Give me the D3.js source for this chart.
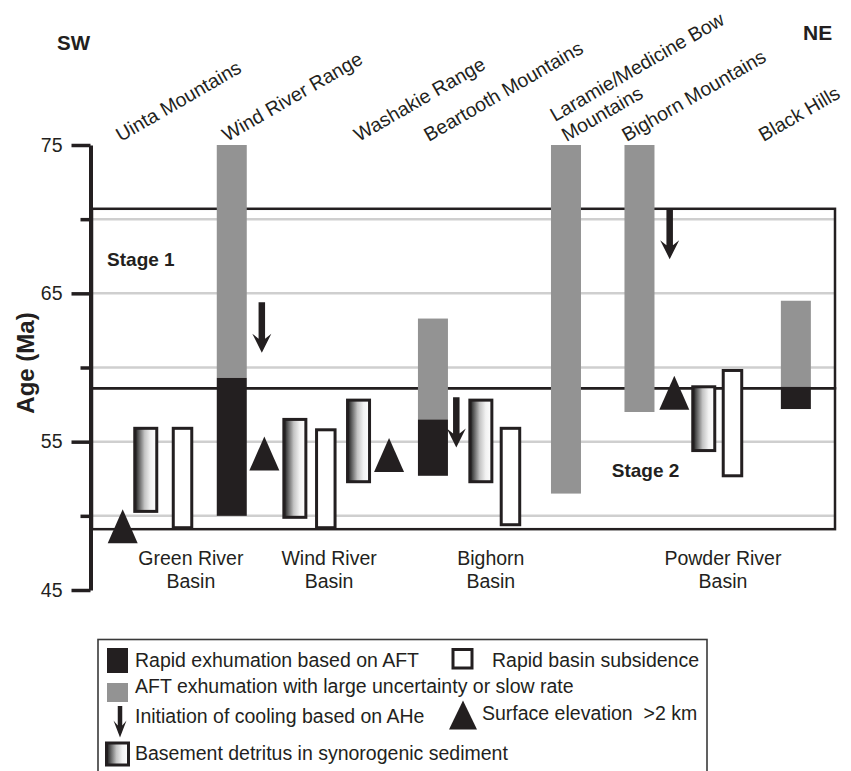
<!DOCTYPE html>
<html>
<head>
<meta charset="utf-8">
<script src="https://cdn.jsdelivr.net/npm/d3@7/dist/d3.min.js"></script>
<style>
  html, body { margin: 0; padding: 0; background: #fff; }
  svg { display: block; font-family: "Liberation Sans", Arial, Helvetica, sans-serif; }
</style>
</head>
<body>
<svg id="chart" width="851" height="771"></svg>
<script>
// ---- Age axis (Ma) ----
const majorTicks = [45, 55, 65, 75];
const minorTicks = [50, 60, 70];
const gridAges = [50, 55, 60, 65, 70];

// Stage limits (Ma): top of stage 1, stage 1/2 boundary, base of stage 2
const stageLimits = [70.7, 58.6, 49.1];
const stageNames = ["Stage 1", "Stage 2"];

// ---- Uplifts and basins along the SW–NE transect (transect units 0–50) ----
const rangeNames = ["Uinta Mountains", "Wind River Range", "Washakie Range", "Beartooth Mountains",
                    "Laramie/Medicine Bow\nMountains", "Bighorn Mountains", "Black Hills"];
const rangePos = [2.0, 9.14, 18.0, 22.7, 31.95, 36.0, 45.2];

const basinNames = ["Green River\nBasin", "Wind River\nBasin", "Bighorn\nBasin", "Powder River\nBasin"];
const basinPos = [6.71, 16.0, 26.87, 42.47];

// AFT exhumation with large uncertainty or slow rate (old → young, Ma)
const slowPos   = [9.46, 22.98, 31.92, 36.86, 47.37];
const slowOld   = [75.0, 63.3, 75.0, 75.0, 64.5];
const slowYoung = [59.3, 56.5, 51.5, 57.0, 58.7];

// Rapid exhumation based on AFT
const rapidPos   = [9.46, 22.98, 47.37];
const rapidOld   = [59.3, 56.5, 58.7];
const rapidYoung = [50.0, 52.7, 57.2];

// Basement detritus in synorogenic sediment
const detritusPos   = [3.68, 13.70, 17.98, 26.20, 41.18];
const detritusOld   = [55.9, 56.5, 57.8, 57.8, 58.7];
const detritusYoung = [50.3, 49.9, 52.3, 52.3, 54.4];

// Rapid basin subsidence
const subsidencePos   = [6.15, 15.78, 28.19, 43.11];
const subsidenceOld   = [55.9, 55.8, 55.9, 59.8];
const subsidenceYoung = [49.2, 49.2, 49.4, 52.7];

// Initiation of cooling based on AHe (arrow from start to onset age)
const ahePos   = [11.48, 24.55, 38.89];
const aheStart = [64.4, 58.0, 70.7];
const aheOnset = [61.0, 54.6, 67.3];

// Surface elevation > 2 km
const elevPos = [2.13, 11.65, 20.03, 39.2];
const elevAge = [49.3, 54.2, 54.1, 58.3];

// ---- Drawing ----
const INK = "#231f20";
const GREY = "#939393";
const svg = d3.select("#chart");

const y = d3.scaleLinear().domain([45, 75]).range([590, 145]);
const x = d3.scaleLinear().domain([0, 50]).range([91, 835]);

// gradient for detritus boxes: dark on the left fading to white
const defs = svg.append("defs");
const grad = defs.append("linearGradient").attr("id", "detritus")
  .attr("x1", "0%").attr("x2", "100%").attr("y1", "0%").attr("y2", "0%");
[[0, "#151515"], [0.18, "#5c5c5c"], [0.45, "#c4c4c4"], [0.72, "#f2f2f2"], [1, "#ffffff"]]
  .forEach(([o, c]) => grad.append("stop").attr("offset", o).attr("stop-color", c));

// light grid lines
svg.append("g").selectAll("line").data(gridAges).join("line")
  .attr("x1", x(0) + 2).attr("x2", x(50) - 1)
  .attr("y1", d => y(d)).attr("y2", d => y(d))
  .attr("stroke", "#cfcfcf").attr("stroke-width", 2.5);

// stage boxes
const stageBoxes = d3.range(stageNames.length).map(i => ({ top: stageLimits[i], bottom: stageLimits[i + 1] }));
svg.append("g").selectAll("rect").data(stageBoxes).join("rect")
  .attr("x", x(0) + 1).attr("width", x(50) - x(0) - 1)
  .attr("y", d => y(d.top)).attr("height", d => y(d.bottom) - y(d.top))
  .attr("fill", "none").attr("stroke", INK).attr("stroke-width", 2.5);

svg.append("text").text(stageNames[0]).attr("x", x(1.08)).attr("y", 266)
  .attr("font-weight", "bold").attr("font-size", 19).attr("fill", INK);
svg.append("text").text(stageNames[1]).attr("x", x(35.0)).attr("y", 477)
  .attr("font-weight", "bold").attr("font-size", 19).attr("fill", INK);

const BAR_W = 30, DET_W = 22, SUB_W = 18.5;

// slow / uncertain AFT bars
svg.append("g").selectAll("rect").data(slowPos.map((p, i) => ({ p, o: slowOld[i], yg: slowYoung[i] }))).join("rect")
  .attr("x", d => x(d.p) - BAR_W / 2).attr("width", BAR_W)
  .attr("y", d => y(d.o)).attr("height", d => y(d.yg) - y(d.o))
  .attr("fill", GREY);

// rapid AFT bars
svg.append("g").selectAll("rect").data(rapidPos.map((p, i) => ({ p, o: rapidOld[i], yg: rapidYoung[i] }))).join("rect")
  .attr("x", d => x(d.p) - BAR_W / 2).attr("width", BAR_W)
  .attr("y", d => y(d.o)).attr("height", d => y(d.yg) - y(d.o))
  .attr("fill", INK);

// detritus boxes
svg.append("g").selectAll("rect").data(detritusPos.map((p, i) => ({ p, o: detritusOld[i], yg: detritusYoung[i] }))).join("rect")
  .attr("x", d => x(d.p) - DET_W / 2).attr("width", DET_W)
  .attr("y", d => y(d.o)).attr("height", d => y(d.yg) - y(d.o))
  .attr("fill", "url(#detritus)").attr("stroke", INK).attr("stroke-width", 3);

// subsidence boxes
svg.append("g").selectAll("rect").data(subsidencePos.map((p, i) => ({ p, o: subsidenceOld[i], yg: subsidenceYoung[i] }))).join("rect")
  .attr("x", d => x(d.p) - SUB_W / 2).attr("width", SUB_W)
  .attr("y", d => y(d.o)).attr("height", d => y(d.yg) - y(d.o))
  .attr("fill", "#fff").attr("stroke", INK).attr("stroke-width", 3);

// arrow glyph: shaft from yTop down to a solid head with a shallow notch
function arrowPath(cx, yTop, yTip, shaft, half, headLen, notch) {
  const s = shaft / 2;
  return `M${cx - s},${yTop} L${cx + s},${yTop} L${cx + s},${yTip - notch} L${cx + half},${yTip - headLen}` +
         ` L${cx},${yTip} L${cx - half},${yTip - headLen} L${cx - s},${yTip - notch} Z`;
}
svg.append("g").selectAll("path").data(ahePos.map((p, i) => ({ p, a: aheStart[i], b: aheOnset[i] }))).join("path")
  .attr("d", d => arrowPath(x(d.p), y(d.a), y(d.b), 6.5, 9.5, 19, 14))
  .attr("fill", INK);

// elevation triangles
const TRI_W = 30, TRI_H = 34;
svg.append("g").selectAll("path").data(elevPos.map((p, i) => ({ p, a: elevAge[i] }))).join("path")
  .attr("d", d => {
    const cx = x(d.p), cy = y(d.a);
    return `M${cx},${cy - TRI_H / 2} L${cx + TRI_W / 2},${cy + TRI_H / 2} L${cx - TRI_W / 2},${cy + TRI_H / 2} Z`;
  })
  .attr("fill", INK);

// y axis
const axisG = svg.append("g").attr("transform", `translate(${x(0) - 0.5},0)`);
axisG.call(d3.axisLeft(y).tickValues(majorTicks).tickSize(19).tickSizeOuter(0).tickPadding(9).tickFormat(d3.format("d")));
axisG.select(".domain").attr("stroke", INK).attr("stroke-width", 4);
axisG.selectAll(".tick line").attr("stroke", INK).attr("stroke-width", 3.5);
axisG.selectAll(".tick text").attr("font-size", 19.5).attr("fill", INK)
  .attr("font-family", "'Liberation Sans', Arial, sans-serif");
const minorG = svg.append("g").attr("transform", `translate(${x(0) - 0.5},0)`);
minorG.call(d3.axisLeft(y).tickValues(minorTicks).tickSize(10).tickSizeOuter(0).tickFormat(""));
minorG.select(".domain").remove();
minorG.selectAll(".tick line").attr("stroke", INK).attr("stroke-width", 3.5);

svg.append("text").text("Age (Ma)")
  .attr("transform", "translate(34,363) rotate(-90)")
  .attr("text-anchor", "middle").attr("font-weight", "bold").attr("font-size", 24).attr("fill", INK);

// transect ends
svg.append("text").text("SW").attr("x", 57).attr("y", 50)
  .attr("font-weight", "bold").attr("font-size", 20.5).attr("fill", INK);
svg.append("text").text("NE").attr("x", 803).attr("y", 40)
  .attr("font-weight", "bold").attr("font-size", 21).attr("fill", INK);

// uplift names, slanted
const LINE_H = 23;
svg.append("g").selectAll("text").data(rangeNames.map((n, i) => ({ n, p: rangePos[i] }))).join("text")
  .attr("transform", d => `translate(${x(d.p)},142) rotate(-30)`)
  .attr("font-size", 19.5).attr("fill", INK)
  .each(function (d) {
    const lines = d.n.split("\n");
    d3.select(this).selectAll("tspan").data(lines).join("tspan")
      .attr("x", 0).attr("y", (l, i) => -(lines.length - 1 - i) * LINE_H).text(l => l);
  });

// basin names
svg.append("g").selectAll("text").data(basinNames.map((n, i) => ({ n, p: basinPos[i] }))).join("text")
  .attr("text-anchor", "middle").attr("font-size", 19.5).attr("fill", INK)
  .each(function (d) {
    d3.select(this).selectAll("tspan").data(d.n.split("\n")).join("tspan")
      .attr("x", x(d.p)).attr("y", (l, i) => 565 + i * LINE_H).text(l => l);
  });

// ---- Legend ----
const lg = svg.append("g");
lg.append("rect").attr("x", 98).attr("y", 639.5).attr("width", 609).attr("height", 200)
  .attr("fill", "none").attr("stroke", "#3a3a3a").attr("stroke-width", 1.6);
lg.append("rect").attr("x", 107).attr("y", 648).attr("width", 21).attr("height", 25).attr("fill", INK);
lg.append("rect").attr("x", 107).attr("y", 683).attr("width", 21).attr("height", 19).attr("fill", GREY);
lg.append("path").attr("d", arrowPath(120, 706, 737.5, 4.5, 6.5, 17, 12)).attr("fill", INK);
lg.append("rect").attr("x", 106.5).attr("y", 743).attr("width", 22).attr("height", 22)
  .attr("fill", "url(#detritus)").attr("stroke", INK).attr("stroke-width", 3);
lg.append("rect").attr("x", 453).attr("y", 649.5).attr("width", 19).attr("height", 18.5)
  .attr("fill", "#fff").attr("stroke", INK).attr("stroke-width", 3);
lg.append("path").attr("d", "M463,700.5 L477,729.5 L449,729.5 Z").attr("fill", INK);

const legendTexts = [
  ["Rapid exhumation based on AFT", 135, 667],
  ["AFT exhumation with large uncertainty or slow rate", 135, 693],
  ["Initiation of cooling based on AHe", 135, 723],
  ["Basement detritus in synorogenic sediment", 135, 760],
  ["Rapid basin subsidence", 492, 667],
  ["Surface elevation  >2 km", 482, 720]
];
lg.selectAll("text").data(legendTexts).join("text")
  .attr("x", d => d[1]).attr("y", d => d[2]).text(d => d[0])
  .attr("font-size", 19.5).attr("fill", INK).attr("xml:space", "preserve")
  .style("white-space", "pre");
</script>
</body>
</html>
